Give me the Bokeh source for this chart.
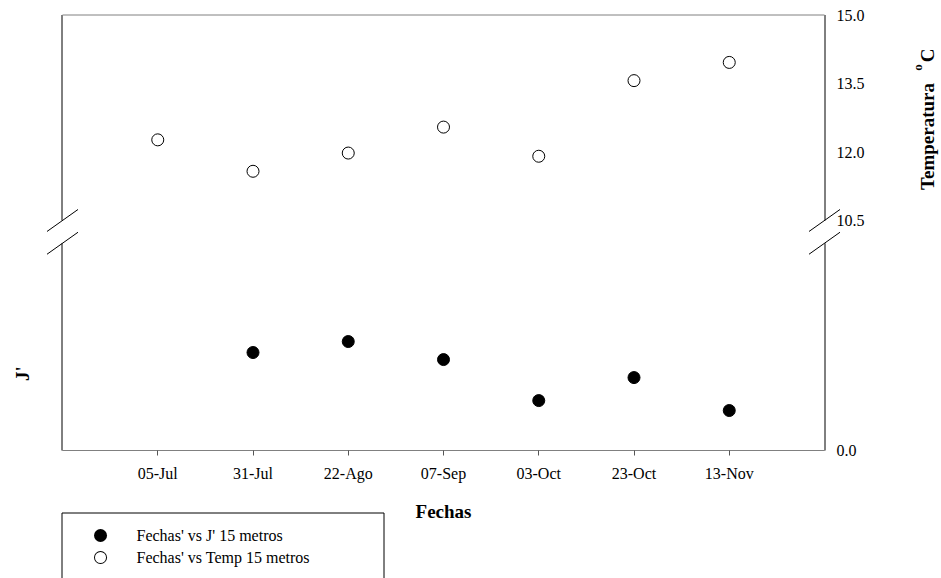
import math
from bokeh.plotting import figure
from bokeh.models import Range1d, LinearAxis, FixedTicker, PrintfTickFormatter
from bokeh.core.properties import value
from bokeh.embed import file_html
from bokeh.resources import INLINE

# --- data -------------------------------------------------------------
fechas = ["05-Jul", "31-Jul", "22-Ago", "07-Sep", "03-Oct", "23-Oct", "13-Nov"]
temp_15m = [12.27, 11.58, 11.98, 12.55, 11.91, 13.57, 13.97]        # Temperatura (oC)
j_fechas = ["31-Jul", "22-Ago", "07-Sep", "03-Oct", "23-Oct", "13-Nov"]
j_15m = [0.473, 0.526, 0.439, 0.241, 0.352, 0.193]                  # J' (equidad)
temp_ticks = [10.5, 12.0, 13.5, 15.0]
series_names = ["Fechas' vs J' 15 metros", "Fechas' vs Temp 15 metros"]

# --- geometry ---------------------------------------------------------
W, H = 941, 578
BORDER_L, BORDER_R, BORDER_T, BORDER_B = 62, 117, 15, 128
FRAME_W = W - BORDER_L - BORDER_R
FRAME_H = H - BORDER_T - BORDER_B
FRAME_BOTTOM = BORDER_T + FRAME_H

X_END = len(fechas) + 1
T_LOW, T_HIGH = 5.45, 15.0        # temperature span of the frame
BREAK_LO, BREAK_HI = 10.0, 10.5   # axis break
J_TOP = 2.1

PX_X = FRAME_W / X_END
PX_T = FRAME_H / (T_HIGH - T_LOW)

FONT = "Liberation Serif"


def dx(px):
    """canvas x pixel -> data x"""
    return (px - BORDER_L) / PX_X


def dy(py):
    """canvas y pixel -> temperature units"""
    return T_LOW + (FRAME_BOTTOM - py) / PX_T


p = figure(width=W, height=H, x_range=Range1d(0, X_END), y_range=Range1d(T_LOW, T_HIGH),
           output_backend="svg", toolbar_location=None, title=None,
           min_border_left=BORDER_L, min_border_right=BORDER_R,
           min_border_top=BORDER_T, min_border_bottom=BORDER_B)
p.extra_y_ranges = {"jp": Range1d(0, J_TOP)}
p.grid.visible = False
p.outline_line_color = None
p.background_fill_color = "white"
p.border_fill_color = "white"

# --- x axis (dates) ---------------------------------------------------
xpos = {f: i + 1 for i, f in enumerate(fechas)}
xa = p.xaxis[0]
xa.ticker = FixedTicker(ticks=list(xpos.values()))
xa.major_label_overrides = {v: k for k, v in xpos.items()}
xa.axis_line_color = "#808080"
xa.major_tick_line_color = "#555555"
xa.major_tick_out = 5
xa.major_tick_in = 0
xa.minor_tick_line_color = None
xa.major_label_standoff = 9
xa.major_label_text_font = FONT
xa.major_label_text_font_size = "16px"
xa.major_label_text_color = "black"
xa.axis_label = "Fechas"
xa.axis_label_text_font = FONT
xa.axis_label_text_font_style = "bold"
xa.axis_label_text_font_size = "19px"
xa.axis_label_text_color = "black"
xa.axis_label_standoff = 16

# --- left axis (J'), no ticks ------------------------------------------
ya = p.yaxis[0]
ya.axis_line_color = None
ya.major_tick_line_color = None
ya.minor_tick_line_color = None
ya.major_label_text_font_size = "0px"
ya.ticker = FixedTicker(ticks=[])

# --- right axis (temperature) -----------------------------------------
ra = LinearAxis(ticker=FixedTicker(ticks=[T_LOW] + temp_ticks),
                formatter=PrintfTickFormatter(format="%.1f"))
ra.major_label_overrides = {T_LOW: "0.0"}
ra.axis_line_color = None
ra.major_tick_line_color = None
ra.minor_tick_line_color = None
ra.major_tick_out = 0
ra.major_tick_in = 0
ra.major_label_standoff = 12
ra.major_label_text_font = FONT
ra.major_label_text_font_size = "16px"
ra.major_label_text_color = "black"
p.add_layout(ra, "right")

# --- frame lines with axis break ----------------------------------------
hx = 0.5 / PX_X
ht = 0.5 / PX_T
sides = [-hx, X_END + hx]
p.segment(x0=sides * 2,
          y0=[T_LOW, T_LOW, BREAK_HI, BREAK_HI],
          x1=sides * 2,
          y1=[BREAK_LO, BREAK_LO, T_HIGH + ht, T_HIGH + ht],
          line_color="black", line_width=1, level="overlay")
p.segment(x0=[0], y0=[T_HIGH + ht], x1=[X_END], y1=[T_HIGH + ht],
          line_color="#808080", line_width=1, level="overlay")

# break slashes
sdx = 15.5 / PX_X
sdy = 11.0 / PX_T
sx0, sy0, sx1, sy1 = [], [], [], []
for xs in (0, X_END):
    for yb in (BREAK_LO, BREAK_HI):
        sx0.append(xs - sdx); sy0.append(yb - sdy)
        sx1.append(xs + sdx); sy1.append(yb + sdy)
p.segment(x0=sx0, y0=sy0, x1=sx1, y1=sy1, line_color="black", line_width=1, level="overlay")

# --- series -----------------------------------------------------------
p.scatter(x=[xpos[f] for f in j_fechas], y=j_15m, y_range_name="jp",
          marker="circle", size=12, fill_color="black", line_color="black")
p.scatter(x=[xpos[f] for f in fechas], y=temp_15m,
          marker="circle", size=12, fill_color="white", line_color="black", line_width=1)

# --- legend box (below the frame) ---------------------------------------
p.quad(left=[dx(61.5)], right=[dx(383.5)], top=[dy(512.5)], bottom=[dy(580)],
       fill_color="white", line_color="black", line_width=1, level="overlay")
# legend swatches: round-capped dots (a filled one and a ring)
eps = 0.02 / PX_X
kx = dx(100)
p.segment(x0=[kx, kx], y0=[dy(535), dy(557)], x1=[kx + eps, kx + eps], y1=[dy(535), dy(557)],
          line_color="black", line_width=13, line_cap="round", level="overlay")
p.segment(x0=[kx], y0=[dy(557)], x1=[kx + eps], y1=[dy(557)],
          line_color="white", line_width=11, line_cap="round", level="overlay")
p.text(x=[dx(136), dx(136)], y=[dy(535), dy(557)], text=series_names,
       text_font=value(FONT), text_font_size="16px", text_color="black",
       text_align="left", text_baseline="middle", level="overlay")

# --- axis titles --------------------------------------------------------
p.text(x=[dx(22), dx(927), dx(927)], y=[dy(373), dy(136), dy(55)],
       text=["J'", "Temperatura", "C"], angle=math.pi / 2,
       text_font=value(FONT), text_font_style="bold", text_font_size="19px",
       text_color="black", text_align="center", text_baseline="middle", level="overlay")
p.text(x=[dx(917)], y=[dy(67)], text=["o"], angle=math.pi / 2,
       text_font=value(FONT), text_font_style="bold", text_font_size="13px",
       text_color="black", text_align="center", text_baseline="middle", level="overlay")

open("out.html", "w").write(file_html(p, INLINE))
